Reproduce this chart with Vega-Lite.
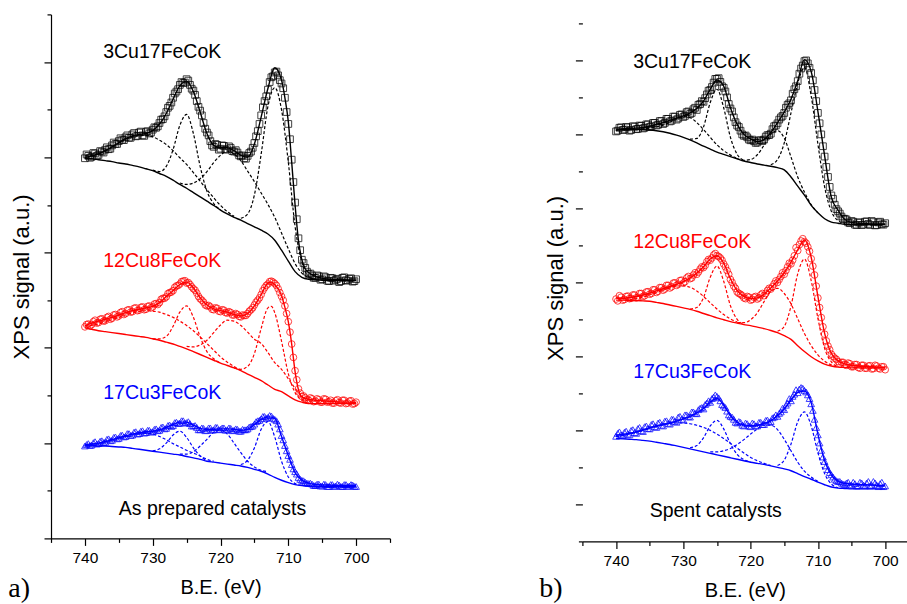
{
"$schema": "https://vega.github.io/schema/vega-lite/v6.json",
"background": "white",
"padding": {"left": 8, "top": 13.4, "right": 0, "bottom": 0},
"spacing": 147.4,
"config": {
  "view": {"stroke": null},
  "axis": {"grid": false, "domainColor": "#000", "domainWidth": 1.2, "tickColor": "#000", "tickWidth": 1.2, "labelColor": "#000", "labelFont": "Liberation Sans", "labelFontSize": 15.5, "titleColor": "#000", "titleFont": "Liberation Sans", "titleFontWeight": "normal", "titleFontSize": 20},
  "axisY": {"titleFontSize": 22},
  "text": {"font": "Liberation Sans"}
},
"datasets": {
"rows": [
{"s":"ak","E":740,"d":7.98,"e":8.00,"g":7.98,"c1":8.03},
{"s":"ak","E":739.5,"d":8.03},
{"s":"ak","E":739,"d":8.01,"e":8.03,"g":7.97,"c1":8.05},
{"s":"ak","E":738.5,"d":8.08},
{"s":"ak","E":738,"d":8.05,"e":8.07,"g":7.95,"c1":8.08},
{"s":"ak","E":737.5,"d":8.12},
{"s":"ak","E":737,"d":8.16,"e":8.14,"g":7.93,"c1":8.13},
{"s":"ak","E":736.5,"d":8.17},
{"s":"ak","E":736,"d":8.25,"e":8.22,"g":7.91,"c1":8.21},
{"s":"ak","E":735.5,"d":8.28},
{"s":"ak","E":735,"d":8.34,"e":8.31,"g":7.88,"c1":8.30},
{"s":"ak","E":734.5,"d":8.37},
{"s":"ak","E":734,"d":8.42,"e":8.39,"g":7.86,"c1":8.38},
{"s":"ak","E":733.5,"d":8.41},
{"s":"ak","E":733,"d":8.48,"e":8.45,"g":7.83,"c1":8.43},
{"s":"ak","E":732.5,"d":8.44},
{"s":"ak","E":732,"d":8.52,"e":8.48,"g":7.80,"c1":8.46},
{"s":"ak","E":731.5,"d":8.46},
{"s":"ak","E":731,"d":8.53,"e":8.50,"g":7.76,"c1":8.46},
{"s":"ak","E":730.5,"d":8.50},
{"s":"ak","E":730,"d":8.58,"e":8.56,"g":7.72,"c1":8.43,"c2":7.73},
{"s":"ak","E":729.5,"d":8.62},
{"s":"ak","E":729,"d":8.72,"e":8.70,"g":7.66,"c1":8.36,"c2":7.70},
{"s":"ak","E":728.5,"d":8.80},
{"s":"ak","E":728,"d":8.95,"e":8.92,"g":7.60,"c1":8.27,"c2":7.81},
{"s":"ak","E":727.5,"d":9.08},
{"s":"ak","E":727,"d":9.25,"e":9.22,"g":7.52,"c1":8.14,"c2":8.16},
{"s":"ak","E":726.5,"d":9.38},
{"s":"ak","E":726,"d":9.52,"e":9.50,"g":7.43,"c1":7.99,"c2":8.67,"c3":7.46},
{"s":"ak","E":725.5,"d":9.56},
{"s":"ak","E":725,"d":9.64,"e":9.60,"g":7.35,"c1":7.85,"c2":8.90,"c3":7.43},
{"s":"ak","E":724.5,"d":9.52},
{"s":"ak","E":724,"d":9.40,"e":9.38,"g":7.26,"c1":7.68,"c2":8.50,"c3":7.46},
{"s":"ak","E":723.5,"d":9.18},
{"s":"ak","E":723,"d":8.98,"e":8.95,"g":7.17,"c1":7.50,"c2":7.81,"c3":7.55},
{"s":"ak","E":722.5,"d":8.72},
{"s":"ak","E":722,"d":8.52,"e":8.50,"g":7.08,"c1":7.32,"c2":7.29,"c3":7.70},
{"s":"ak","E":721.5,"d":8.34},
{"s":"ak","E":721,"d":8.22,"e":8.25,"g":6.99,"c1":7.15,"c2":7.03,"c3":7.89},
{"s":"ak","E":720.5,"d":8.26},
{"s":"ak","E":720,"d":8.18,"e":8.20,"g":6.89,"c1":6.99,"c2":6.90,"c3":8.04},
{"s":"ak","E":719.5,"d":8.24},
{"s":"ak","E":719,"d":8.17,"e":8.20,"g":6.81,"c1":6.86,"c3":8.13},
{"s":"ak","E":718.5,"d":8.20},
{"s":"ak","E":718,"d":8.12,"e":8.14,"g":6.74,"c1":6.76,"c3":8.07},
{"s":"ak","E":717.5,"d":8.10},
{"s":"ak","E":717,"d":8.02,"e":8.04,"g":6.68,"c3":7.93,"c4":6.72},
{"s":"ak","E":716.5,"d":7.98},
{"s":"ak","E":716,"d":8.03,"e":8.00,"g":6.61,"c3":7.71,"c4":6.81},
{"s":"ak","E":715.5,"d":8.12},
{"s":"ak","E":715,"d":8.30,"e":8.28,"g":6.54,"c3":7.49,"c4":7.21},
{"s":"ak","E":714.5,"d":8.55},
{"s":"ak","E":714,"d":8.88,"e":8.85,"g":6.47,"c3":7.25,"c4":8.07},
{"s":"ak","E":713.5,"d":9.18},
{"s":"ak","E":713,"d":9.42,"e":9.45,"g":6.39,"c3":7.01,"c4":9.07},
{"s":"ak","E":712.5,"d":9.68},
{"s":"ak","E":712,"d":9.78,"e":9.88,"g":6.26,"c3":6.74,"c4":9.46},
{"s":"ak","E":711.5,"d":9.72},
{"s":"ak","E":711,"d":9.55,"e":9.62,"g":6.05,"c3":6.41,"c4":9.00},
{"s":"ak","E":710.5,"d":9.25,"e":9.25},
{"s":"ak","E":710,"d":8.70,"e":8.75,"g":5.82,"c3":6.08,"c4":7.90},
{"s":"ak","E":709.5,"d":7.95,"e":7.90},
{"s":"ak","E":709,"d":7.05,"e":7.00,"g":5.60,"c3":5.77,"c4":6.55},
{"s":"ak","E":708.5,"d":6.30,"e":6.25},
{"s":"ak","E":708,"d":5.85,"e":5.85,"g":5.48,"c3":5.57,"c4":5.80},
{"s":"ak","E":707.5,"d":5.68,"e":5.66},
{"s":"ak","E":707,"d":5.55,"e":5.58,"g":5.44,"c3":5.48,"c4":5.50},
{"s":"ak","E":706.5,"d":5.52},
{"s":"ak","E":706,"d":5.47,"e":5.50,"g":5.43,"c3":5.44,"c4":5.44},
{"s":"ak","E":705.5,"d":5.50},
{"s":"ak","E":705,"d":5.44,"e":5.46,"g":5.42},
{"s":"ak","E":704.5,"d":5.48},
{"s":"ak","E":704,"d":5.40,"e":5.44,"g":5.42},
{"s":"ak","E":703.5,"d":5.46},
{"s":"ak","E":703,"d":5.43,"e":5.43,"g":5.42},
{"s":"ak","E":702.5,"d":5.38},
{"s":"ak","E":702,"d":5.47,"e":5.43,"g":5.42},
{"s":"ak","E":701.5,"d":5.42},
{"s":"ak","E":701,"d":5.45,"e":5.42,"g":5.42},
{"s":"ak","E":700.5,"d":5.39},
{"s":"ak","E":700,"d":5.44,"e":5.42,"g":5.42},

{"s":"ar","E":740,"d":4.44,"e":4.46,"g":4.42,"c1":4.46},
{"s":"ar","E":739.5,"d":4.50},
{"s":"ar","E":739,"d":4.49,"e":4.52,"g":4.39,"c1":4.47},
{"s":"ar","E":738.5,"d":4.58},
{"s":"ar","E":738,"d":4.53,"e":4.56,"g":4.36,"c1":4.50},
{"s":"ar","E":737.5,"d":4.61},
{"s":"ar","E":737,"d":4.57,"e":4.60,"g":4.34,"c1":4.54},
{"s":"ar","E":736.5,"d":4.66},
{"s":"ar","E":736,"d":4.62,"e":4.64,"g":4.32,"c1":4.59},
{"s":"ar","E":735.5,"d":4.70},
{"s":"ar","E":735,"d":4.67,"e":4.69,"g":4.30,"c1":4.64},
{"s":"ar","E":734.5,"d":4.76},
{"s":"ar","E":734,"d":4.72,"e":4.74,"g":4.28,"c1":4.69},
{"s":"ar","E":733.5,"d":4.80},
{"s":"ar","E":733,"d":4.76,"e":4.78,"g":4.26,"c1":4.73},
{"s":"ar","E":732.5,"d":4.84},
{"s":"ar","E":732,"d":4.79,"e":4.81,"g":4.24,"c1":4.76},
{"s":"ar","E":731.5,"d":4.86},
{"s":"ar","E":731,"d":4.81,"e":4.84,"g":4.22,"c1":4.78},
{"s":"ar","E":730.5,"d":4.88},
{"s":"ar","E":730,"d":4.86,"e":4.87,"g":4.19,"c1":4.77,"c2":4.19},
{"s":"ar","E":729.5,"d":4.93},
{"s":"ar","E":729,"d":4.95,"e":4.95,"g":4.16,"c1":4.75,"c2":4.19},
{"s":"ar","E":728.5,"d":5.04},
{"s":"ar","E":728,"d":5.07,"e":5.08,"g":4.12,"c1":4.70,"c2":4.24},
{"s":"ar","E":727.5,"d":5.16},
{"s":"ar","E":727,"d":5.20,"e":5.20,"g":4.08,"c1":4.64,"c2":4.45},
{"s":"ar","E":726.5,"d":5.30},
{"s":"ar","E":726,"d":5.34,"e":5.33,"g":4.03,"c1":4.56,"c2":4.75},
{"s":"ar","E":725.5,"d":5.40},
{"s":"ar","E":725,"d":5.36,"e":5.38,"g":3.98,"c1":4.47,"c2":4.88,"c3":4.03},
{"s":"ar","E":724.5,"d":5.33},
{"s":"ar","E":724,"d":5.24,"e":5.26,"g":3.92,"c1":4.36,"c2":4.64,"c3":4.02},
{"s":"ar","E":723.5,"d":5.15},
{"s":"ar","E":723,"d":5.03,"e":5.05,"g":3.86,"c1":4.23,"c2":4.23,"c3":4.06},
{"s":"ar","E":722.5,"d":4.96},
{"s":"ar","E":722,"d":4.88,"e":4.90,"g":3.80,"c1":4.09,"c2":3.92,"c3":4.16},
{"s":"ar","E":721.5,"d":4.86},
{"s":"ar","E":721,"d":4.80,"e":4.82,"g":3.74,"c1":3.95,"c2":3.77,"c3":4.32},
{"s":"ar","E":720.5,"d":4.83},
{"s":"ar","E":720,"d":4.76,"e":4.78,"g":3.68,"c1":3.81,"c2":3.68,"c3":4.48},
{"s":"ar","E":719.5,"d":4.79},
{"s":"ar","E":719,"d":4.73,"e":4.75,"g":3.63,"c1":3.70,"c3":4.58},
{"s":"ar","E":718.5,"d":4.74},
{"s":"ar","E":718,"d":4.69,"e":4.70,"g":3.58,"c1":3.61,"c3":4.56,"c4":3.58},
{"s":"ar","E":717.5,"d":4.70},
{"s":"ar","E":717,"d":4.65,"e":4.67,"g":3.52,"c1":3.53,"c3":4.47,"c4":3.55},
{"s":"ar","E":716.5,"d":4.68},
{"s":"ar","E":716,"d":4.72,"e":4.72,"g":3.45,"c3":4.33,"c4":3.61},
{"s":"ar","E":715.5,"d":4.80},
{"s":"ar","E":715,"d":4.90,"e":4.88,"g":3.38,"c3":4.18,"c4":3.88},
{"s":"ar","E":714.5,"d":5.00},
{"s":"ar","E":714,"d":5.12,"e":5.12,"g":3.31,"c3":4.09,"c4":4.41},
{"s":"ar","E":713.5,"d":5.26},
{"s":"ar","E":713,"d":5.34,"e":5.36,"g":3.22,"c3":3.90,"c4":4.84},
{"s":"ar","E":712.5,"d":5.40,"e":5.38,"c4":4.87},
{"s":"ar","E":712,"d":5.35,"e":5.33,"g":3.13,"c3":3.69,"c4":4.74},
{"s":"ar","E":711.5,"d":5.24},
{"s":"ar","E":711,"d":5.08,"e":5.10,"g":3.08,"c3":3.55,"c4":4.14},
{"s":"ar","E":710.5,"d":4.88,"e":4.85},
{"s":"ar","E":710,"d":4.55,"e":4.55,"g":2.99,"c3":3.35,"c4":3.46},
{"s":"ar","E":709.5,"d":4.08,"e":4.08},
{"s":"ar","E":709,"d":3.52,"e":3.50,"g":2.91,"c3":3.15,"c4":3.06},
{"s":"ar","E":708.5,"d":3.14,"e":3.12},
{"s":"ar","E":708,"d":2.98,"e":2.97,"g":2.86,"c3":2.98,"c4":2.90},
{"s":"ar","E":707.5,"d":2.95},
{"s":"ar","E":707,"d":2.90,"e":2.92,"g":2.83,"c3":2.86,"c4":2.83},
{"s":"ar","E":706.5,"d":2.93},
{"s":"ar","E":706,"d":2.88,"e":2.90,"g":2.83},
{"s":"ar","E":705.5,"d":2.91},
{"s":"ar","E":705,"d":2.86,"e":2.89,"g":2.83},
{"s":"ar","E":704.5,"d":2.92},
{"s":"ar","E":704,"d":2.87,"e":2.88,"g":2.83},
{"s":"ar","E":703.5,"d":2.84},
{"s":"ar","E":703,"d":2.89,"e":2.87,"g":2.83},
{"s":"ar","E":702.5,"d":2.85},
{"s":"ar","E":702,"d":2.90,"e":2.86,"g":2.83},
{"s":"ar","E":701.5,"d":2.83},
{"s":"ar","E":701,"d":2.88,"e":2.86,"g":2.83},
{"s":"ar","E":700.5,"d":2.82},
{"s":"ar","E":700,"d":2.86,"e":2.85,"g":2.83},

{"s":"ab","E":740,"d":1.94,"e":1.96,"g":1.95,"c1":1.96},
{"s":"ab","E":739.5,"d":1.99},
{"s":"ab","E":739,"d":1.96,"e":1.98,"g":1.95,"c1":1.98},
{"s":"ab","E":738.5,"d":2.03},
{"s":"ab","E":738,"d":1.99,"e":2.00,"g":1.94,"c1":2.00},
{"s":"ab","E":737.5,"d":2.05},
{"s":"ab","E":737,"d":2.02,"e":2.03,"g":1.94,"c1":2.04},
{"s":"ab","E":736.5,"d":2.09},
{"s":"ab","E":736,"d":2.06,"e":2.07,"g":1.93,"c1":2.08},
{"s":"ab","E":735.5,"d":2.13},
{"s":"ab","E":735,"d":2.10,"e":2.11,"g":1.92,"c1":2.12},
{"s":"ab","E":734.5,"d":2.17},
{"s":"ab","E":734,"d":2.14,"e":2.15,"g":1.91,"c1":2.16},
{"s":"ab","E":733.5,"d":2.20},
{"s":"ab","E":733,"d":2.17,"e":2.19,"g":1.89,"c1":2.19},
{"s":"ab","E":732.5,"d":2.24},
{"s":"ab","E":732,"d":2.20,"e":2.22,"g":1.87,"c1":2.21},
{"s":"ab","E":731.5,"d":2.26},
{"s":"ab","E":731,"d":2.22,"e":2.24,"g":1.85,"c1":2.21},
{"s":"ab","E":730.5,"d":2.27},
{"s":"ab","E":730,"d":2.24,"e":2.25,"g":1.83,"c1":2.19,"c2":1.84},
{"s":"ab","E":729.5,"d":2.30},
{"s":"ab","E":729,"d":2.27,"e":2.28,"g":1.81,"c1":2.14,"c2":1.88},
{"s":"ab","E":728.5,"d":2.34},
{"s":"ab","E":728,"d":2.31,"e":2.33,"g":1.79,"c1":2.07,"c2":2.00},
{"s":"ab","E":727.5,"d":2.38},
{"s":"ab","E":727,"d":2.37,"e":2.39,"g":1.77,"c1":1.99,"c2":2.17},
{"s":"ab","E":726.5,"d":2.44},
{"s":"ab","E":726,"d":2.42,"e":2.44,"g":1.75,"c1":1.92,"c2":2.25,"c3":1.77},
{"s":"ab","E":725.5,"d":2.47},
{"s":"ab","E":725,"d":2.43,"e":2.44,"g":1.72,"c1":1.85,"c2":2.12,"c3":1.77},
{"s":"ab","E":724.5,"d":2.41},
{"s":"ab","E":724,"d":2.36,"e":2.38,"g":1.69,"c1":1.79,"c2":1.90,"c3":1.82},
{"s":"ab","E":723.5,"d":2.33},
{"s":"ab","E":723,"d":2.28,"e":2.31,"g":1.66,"c1":1.73,"c2":1.73,"c3":1.94},
{"s":"ab","E":722.5,"d":2.31},
{"s":"ab","E":722,"d":2.27,"e":2.29,"g":1.62,"c1":1.66,"c2":1.63,"c3":2.08},
{"s":"ab","E":721.5,"d":2.32},
{"s":"ab","E":721,"d":2.28,"e":2.29,"g":1.60,"c1":1.62,"c3":2.23},
{"s":"ab","E":720.5,"d":2.33},
{"s":"ab","E":720,"d":2.29,"e":2.30,"g":1.58,"c3":2.28},
{"s":"ab","E":719.5,"d":2.32},
{"s":"ab","E":719,"d":2.28,"e":2.30,"g":1.56,"c3":2.19},
{"s":"ab","E":718.5,"d":2.31},
{"s":"ab","E":718,"d":2.27,"e":2.29,"g":1.54,"c3":2.00},
{"s":"ab","E":717.5,"d":2.29},
{"s":"ab","E":717,"d":2.25,"e":2.27,"g":1.52,"c3":1.80,"c4":1.55},
{"s":"ab","E":716.5,"d":2.28},
{"s":"ab","E":716,"d":2.30,"e":2.29,"g":1.49,"c3":1.62,"c4":1.64},
{"s":"ab","E":715.5,"d":2.35},
{"s":"ab","E":715,"d":2.40,"e":2.39,"g":1.45,"c3":1.50,"c4":1.90},
{"s":"ab","E":714.5,"d":2.47},
{"s":"ab","E":714,"d":2.51,"e":2.50,"g":1.41,"c3":1.43,"c4":2.29},
{"s":"ab","E":713.5,"d":2.56},
{"s":"ab","E":713,"d":2.54,"e":2.55,"g":1.35,"c3":1.40,"c4":2.45},
{"s":"ab","E":712.5,"d":2.57},
{"s":"ab","E":712,"d":2.50,"e":2.52,"g":1.28,"c4":2.13},
{"s":"ab","E":711.5,"d":2.40},
{"s":"ab","E":711,"d":2.16,"e":2.14,"g":1.22,"c4":1.62},
{"s":"ab","E":710.5,"d":1.95},
{"s":"ab","E":710,"d":1.74,"e":1.74,"g":1.17,"c4":1.29},
{"s":"ab","E":709.5,"d":1.55},
{"s":"ab","E":709,"d":1.40,"e":1.38,"g":1.13,"c4":1.15},
{"s":"ab","E":708.5,"d":1.28},
{"s":"ab","E":708,"d":1.22,"e":1.22,"g":1.11,"c4":1.11},
{"s":"ab","E":707.5,"d":1.18},
{"s":"ab","E":707,"d":1.15,"e":1.16,"g":1.10},
{"s":"ab","E":706.5,"d":1.14},
{"s":"ab","E":706,"d":1.11,"e":1.13,"g":1.09},
{"s":"ab","E":705.5,"d":1.14},
{"s":"ab","E":705,"d":1.10,"e":1.12,"g":1.09},
{"s":"ab","E":704.5,"d":1.13},
{"s":"ab","E":704,"d":1.09,"e":1.12,"g":1.09},
{"s":"ab","E":703.5,"d":1.13},
{"s":"ab","E":703,"d":1.10,"e":1.11,"g":1.09},
{"s":"ab","E":702.5,"d":1.12},
{"s":"ab","E":702,"d":1.09,"e":1.11,"g":1.09},
{"s":"ab","E":701.5,"d":1.13},
{"s":"ab","E":701,"d":1.10,"e":1.11,"g":1.09},
{"s":"ab","E":700.5,"d":1.12},
{"s":"ab","E":700,"d":1.09,"e":1.11,"g":1.09},

{"s":"bk","E":740,"d":11.08,"e":11.10,"g":11.14},
{"s":"bk","E":739.5,"d":11.18},
{"s":"bk","E":739,"d":11.12,"e":11.15,"g":11.14},
{"s":"bk","E":738.5,"d":11.20},
{"s":"bk","E":738,"d":11.10,"e":11.16,"g":11.14},
{"s":"bk","E":737.5,"d":11.22},
{"s":"bk","E":737,"d":11.14,"e":11.17,"g":11.13,"c1":11.13},
{"s":"bk","E":736.5,"d":11.24},
{"s":"bk","E":736,"d":11.16,"e":11.19,"g":11.13,"c1":11.15},
{"s":"bk","E":735.5,"d":11.27},
{"s":"bk","E":735,"d":11.20,"e":11.22,"g":11.12,"c1":11.17},
{"s":"bk","E":734.5,"d":11.31},
{"s":"bk","E":734,"d":11.24,"e":11.27,"g":11.10,"c1":11.20},
{"s":"bk","E":733.5,"d":11.36},
{"s":"bk","E":733,"d":11.28,"e":11.32,"g":11.07,"c1":11.25},
{"s":"bk","E":732.5,"d":11.42},
{"s":"bk","E":732,"d":11.35,"e":11.38,"g":11.03,"c1":11.33},
{"s":"bk","E":731.5,"d":11.48},
{"s":"bk","E":731,"d":11.40,"e":11.44,"g":10.98,"c1":11.43},
{"s":"bk","E":730.5,"d":11.53},
{"s":"bk","E":730,"d":11.47,"e":11.50,"g":10.92,"c1":11.48},
{"s":"bk","E":729.5,"d":11.60},
{"s":"bk","E":729,"d":11.55,"e":11.58,"g":10.85,"c1":11.45,"c2":10.87},
{"s":"bk","E":728.5,"d":11.68},
{"s":"bk","E":728,"d":11.66,"e":11.70,"g":10.77,"c1":11.32,"c2":10.89},
{"s":"bk","E":727.5,"d":11.82},
{"s":"bk","E":727,"d":11.88,"e":11.90,"g":10.68,"c1":11.13,"c2":11.20},
{"s":"bk","E":726.5,"d":12.08},
{"s":"bk","E":726,"d":12.20,"e":12.22,"g":10.60,"c1":10.92,"c2":11.86},
{"s":"bk","E":725.5,"d":12.40},
{"s":"bk","E":725,"d":12.50,"e":12.47,"g":10.52,"c1":10.72,"c2":12.22},
{"s":"bk","E":724.5,"d":12.42},
{"s":"bk","E":724,"d":12.26,"e":12.30,"g":10.46,"c1":10.56,"c2":11.72},
{"s":"bk","E":723.5,"d":12.00},
{"s":"bk","E":723,"d":11.70,"e":11.72,"g":10.40,"c1":10.44,"c2":10.92},
{"s":"bk","E":722.5,"d":11.46},
{"s":"bk","E":722,"d":11.24,"e":11.27,"g":10.34,"c1":10.35,"c2":10.46,"c3":10.35},
{"s":"bk","E":721.5,"d":11.10},
{"s":"bk","E":721,"d":10.96,"e":11.00,"g":10.28,"c2":10.30,"c3":10.30},
{"s":"bk","E":720.5,"d":10.92},
{"s":"bk","E":720,"d":10.84,"e":10.88,"g":10.24,"c3":10.32},
{"s":"bk","E":719.5,"d":10.82},
{"s":"bk","E":719,"d":10.78,"e":10.80,"g":10.20,"c3":10.45},
{"s":"bk","E":718.5,"d":10.84},
{"s":"bk","E":718,"d":10.86,"e":10.86,"g":10.17,"c3":10.71},
{"s":"bk","E":717.5,"d":10.98},
{"s":"bk","E":717,"d":11.02,"e":11.05,"g":10.14,"c3":11.00,"c4":10.18},
{"s":"bk","E":716.5,"d":11.22},
{"s":"bk","E":716,"d":11.30,"e":11.32,"g":10.10,"c3":11.10,"c4":10.32},
{"s":"bk","E":715.5,"d":11.46},
{"s":"bk","E":715,"d":11.58,"e":11.60,"g":10.04,"c3":10.90,"c4":10.77},
{"s":"bk","E":714.5,"d":11.80},
{"s":"bk","E":714,"d":11.92,"e":11.95,"g":9.85,"c3":10.39,"c4":11.58},
{"s":"bk","E":713.5,"d":12.22},
{"s":"bk","E":713,"d":12.44,"e":12.45,"g":9.60,"c3":9.85,"c4":12.38},
{"s":"bk","E":712.5,"d":12.78},
{"s":"bk","E":712,"d":12.98,"e":13.02,"g":9.36,"c3":9.44,"c4":12.81},
{"s":"bk","E":711.5,"d":12.92},
{"s":"bk","E":711,"d":12.66,"e":12.70,"g":9.08,"c3":9.10,"c4":12.04},
{"s":"bk","E":710.5,"d":12.20},
{"s":"bk","E":710,"d":11.58,"e":11.62,"g":8.88,"c3":8.88,"c4":10.74},
{"s":"bk","E":709.5,"d":11.00},
{"s":"bk","E":709,"d":10.40,"e":10.42,"g":8.72,"c4":9.58},
{"s":"bk","E":708.5,"d":9.85},
{"s":"bk","E":708,"d":9.35,"e":9.30,"g":8.63,"c4":8.92},
{"s":"bk","E":707.5,"d":9.10},
{"s":"bk","E":707,"d":8.92,"e":8.95,"g":8.60,"c4":8.67},
{"s":"bk","E":706.5,"d":8.78},
{"s":"bk","E":706,"d":8.72,"e":8.70,"g":8.57,"c4":8.59},
{"s":"bk","E":705.5,"d":8.62},
{"s":"bk","E":705,"d":8.66,"e":8.62,"g":8.56},
{"s":"bk","E":704.5,"d":8.56},
{"s":"bk","E":704,"d":8.62,"e":8.60,"g":8.56},
{"s":"bk","E":703.5,"d":8.55},
{"s":"bk","E":703,"d":8.64,"e":8.59,"g":8.56},
{"s":"bk","E":702.5,"d":8.58},
{"s":"bk","E":702,"d":8.66,"e":8.58,"g":8.56},
{"s":"bk","E":701.5,"d":8.54},
{"s":"bk","E":701,"d":8.62,"e":8.58,"g":8.56},
{"s":"bk","E":700.5,"d":8.57},
{"s":"bk","E":700,"d":8.60,"e":8.58,"g":8.56},

{"s":"br","E":740,"d":6.55,"e":6.58,"g":6.52},
{"s":"br","E":739.5,"d":6.64},
{"s":"br","E":739,"d":6.52,"e":6.57,"g":6.52},
{"s":"br","E":738.5,"d":6.62},
{"s":"br","E":738,"d":6.56,"e":6.59,"g":6.51,"c1":6.53},
{"s":"br","E":737.5,"d":6.66},
{"s":"br","E":737,"d":6.58,"e":6.62,"g":6.51,"c1":6.56},
{"s":"br","E":736.5,"d":6.70},
{"s":"br","E":736,"d":6.62,"e":6.66,"g":6.50,"c1":6.60},
{"s":"br","E":735.5,"d":6.74},
{"s":"br","E":735,"d":6.68,"e":6.71,"g":6.49,"c1":6.66},
{"s":"br","E":734.5,"d":6.80},
{"s":"br","E":734,"d":6.73,"e":6.77,"g":6.46,"c1":6.72},
{"s":"br","E":733.5,"d":6.86},
{"s":"br","E":733,"d":6.79,"e":6.83,"g":6.43,"c1":6.79},
{"s":"br","E":732.5,"d":6.92},
{"s":"br","E":732,"d":6.85,"e":6.89,"g":6.39,"c1":6.85},
{"s":"br","E":731.5,"d":6.98},
{"s":"br","E":731,"d":6.92,"e":6.95,"g":6.35,"c1":6.90},
{"s":"br","E":730.5,"d":7.05},
{"s":"br","E":730,"d":6.98,"e":7.02,"g":6.31,"c1":6.91},
{"s":"br","E":729.5,"d":7.12},
{"s":"br","E":729,"d":7.10,"e":7.12,"g":6.27,"c1":6.87,"c2":6.28},
{"s":"br","E":728.5,"d":7.20},
{"s":"br","E":728,"d":7.22,"e":7.25,"g":6.22,"c1":6.77,"c2":6.32},
{"s":"br","E":727.5,"d":7.36},
{"s":"br","E":727,"d":7.40,"e":7.42,"g":6.16,"c1":6.62,"c2":6.59},
{"s":"br","E":726.5,"d":7.56},
{"s":"br","E":726,"d":7.60,"e":7.63,"g":6.10,"c1":6.45,"c2":7.14},
{"s":"br","E":725.5,"d":7.74},
{"s":"br","E":725,"d":7.72,"e":7.72,"g":6.04,"c1":6.28,"c2":7.44},
{"s":"br","E":724.5,"d":7.66},
{"s":"br","E":724,"d":7.50,"e":7.52,"g":5.99,"c1":6.13,"c2":7.03},
{"s":"br","E":723.5,"d":7.32},
{"s":"br","E":723,"d":7.08,"e":7.10,"g":5.94,"c1":6.01,"c2":6.37},
{"s":"br","E":722.5,"d":6.90},
{"s":"br","E":722,"d":6.74,"e":6.78,"g":5.90,"c1":5.93,"c2":6.00,"c3":5.91},
{"s":"br","E":721.5,"d":6.68},
{"s":"br","E":721,"d":6.58,"e":6.62,"g":5.86,"c2":5.87,"c3":5.91},
{"s":"br","E":720.5,"d":6.62},
{"s":"br","E":720,"d":6.52,"e":6.56,"g":5.83,"c3":5.99},
{"s":"br","E":719.5,"d":6.60},
{"s":"br","E":719,"d":6.55,"e":6.58,"g":5.79,"c3":6.18},
{"s":"br","E":718.5,"d":6.66},
{"s":"br","E":718,"d":6.64,"e":6.68,"g":5.75,"c3":6.48},
{"s":"br","E":717.5,"d":6.78},
{"s":"br","E":717,"d":6.82,"e":6.85,"g":5.70,"c3":6.76},
{"s":"br","E":716.5,"d":6.96},
{"s":"br","E":716,"d":7.00,"e":7.04,"g":5.64,"c3":6.84,"c4":5.68},
{"s":"br","E":715.5,"d":7.16},
{"s":"br","E":715,"d":7.22,"e":7.26,"g":5.56,"c3":6.70,"c4":5.81},
{"s":"br","E":714.5,"d":7.42},
{"s":"br","E":714,"d":7.50,"e":7.55,"g":5.46,"c3":6.42,"c4":6.36},
{"s":"br","E":713.5,"d":7.72},
{"s":"br","E":713,"d":7.86,"e":7.88,"g":5.29,"c3":6.02,"c4":7.23},
{"s":"br","E":712.5,"d":8.12},
{"s":"br","E":712,"d":8.10,"e":8.15,"g":5.13,"c3":5.62,"c4":7.63},
{"s":"br","E":711.5,"d":7.96},
{"s":"br","E":711,"d":7.64,"e":7.68,"g":4.99,"c3":5.29,"c4":7.05},
{"s":"br","E":710.5,"d":7.20},
{"s":"br","E":710,"d":6.58,"e":6.62,"g":4.88,"c3":5.04,"c4":6.03},
{"s":"br","E":709.5,"d":6.05},
{"s":"br","E":709,"d":5.60,"e":5.62,"g":4.79,"c3":4.87,"c4":5.22},
{"s":"br","E":708.5,"d":5.28},
{"s":"br","E":708,"d":5.06,"e":5.08,"g":4.74,"c3":4.77,"c4":4.85},
{"s":"br","E":707.5,"d":4.95},
{"s":"br","E":707,"d":4.86,"e":4.88,"g":4.71,"c3":4.71,"c4":4.73},
{"s":"br","E":706.5,"d":4.84},
{"s":"br","E":706,"d":4.78,"e":4.80,"g":4.70},
{"s":"br","E":705.5,"d":4.82},
{"s":"br","E":705,"d":4.72,"e":4.76,"g":4.69},
{"s":"br","E":704.5,"d":4.78},
{"s":"br","E":704,"d":4.70,"e":4.74,"g":4.69},
{"s":"br","E":703.5,"d":4.76},
{"s":"br","E":703,"d":4.68,"e":4.73,"g":4.69},
{"s":"br","E":702.5,"d":4.74},
{"s":"br","E":702,"d":4.66,"e":4.72,"g":4.69},
{"s":"br","E":701.5,"d":4.76},
{"s":"br","E":701,"d":4.68,"e":4.71,"g":4.69},
{"s":"br","E":700.5,"d":4.72},
{"s":"br","E":700,"d":4.64,"e":4.70,"g":4.69},

{"s":"bb","E":740,"d":2.84,"e":2.87,"g":2.78,"c1":2.83},
{"s":"bb","E":739.5,"d":2.96},
{"s":"bb","E":739,"d":2.86,"e":2.89,"g":2.77,"c1":2.86},
{"s":"bb","E":738.5,"d":2.98},
{"s":"bb","E":738,"d":2.88,"e":2.92,"g":2.76,"c1":2.90},
{"s":"bb","E":737.5,"d":3.02},
{"s":"bb","E":737,"d":2.92,"e":2.96,"g":2.75,"c1":2.95},
{"s":"bb","E":736.5,"d":3.08},
{"s":"bb","E":736,"d":2.97,"e":3.01,"g":2.73,"c1":3.00},
{"s":"bb","E":735.5,"d":3.12},
{"s":"bb","E":735,"d":3.04,"e":3.07,"g":2.71,"c1":3.06},
{"s":"bb","E":734.5,"d":3.18},
{"s":"bb","E":734,"d":3.08,"e":3.12,"g":2.68,"c1":3.10},
{"s":"bb","E":733.5,"d":3.22},
{"s":"bb","E":733,"d":3.12,"e":3.16,"g":2.65,"c1":3.15},
{"s":"bb","E":732.5,"d":3.26},
{"s":"bb","E":732,"d":3.17,"e":3.20,"g":2.62,"c1":3.19},
{"s":"bb","E":731.5,"d":3.30},
{"s":"bb","E":731,"d":3.22,"e":3.25,"g":2.58,"c1":3.20},
{"s":"bb","E":730.5,"d":3.38},
{"s":"bb","E":730,"d":3.28,"e":3.31,"g":2.54,"c1":3.20},
{"s":"bb","E":729.5,"d":3.42},
{"s":"bb","E":729,"d":3.36,"e":3.38,"g":2.50,"c1":3.18,"c2":2.53},
{"s":"bb","E":728.5,"d":3.50},
{"s":"bb","E":728,"d":3.45,"e":3.47,"g":2.46,"c1":3.14,"c2":2.59},
{"s":"bb","E":727.5,"d":3.60},
{"s":"bb","E":727,"d":3.58,"e":3.59,"g":2.42,"c1":3.08,"c2":2.80},
{"s":"bb","E":726.5,"d":3.74},
{"s":"bb","E":726,"d":3.76,"e":3.76,"g":2.38,"c1":3.00,"c2":3.12,"c3":2.42},
{"s":"bb","E":725.5,"d":3.90},
{"s":"bb","E":725,"d":3.92,"e":3.87,"g":2.34,"c1":2.90,"c2":3.27,"c3":2.42},
{"s":"bb","E":724.5,"d":3.80},
{"s":"bb","E":724,"d":3.66,"e":3.68,"g":2.30,"c1":2.78,"c2":3.04,"c3":2.45},
{"s":"bb","E":723.5,"d":3.52},
{"s":"bb","E":723,"d":3.38,"e":3.40,"g":2.26,"c1":2.65,"c2":2.64,"c3":2.51},
{"s":"bb","E":722.5,"d":3.30},
{"s":"bb","E":722,"d":3.20,"e":3.22,"g":2.22,"c1":2.52,"c2":2.35,"c3":2.62},
{"s":"bb","E":721.5,"d":3.22},
{"s":"bb","E":721,"d":3.12,"e":3.15,"g":2.18,"c1":2.39,"c2":2.21,"c3":2.75},
{"s":"bb","E":720.5,"d":3.18},
{"s":"bb","E":720,"d":3.10,"e":3.13,"g":2.14,"c1":2.27,"c2":2.14,"c3":2.90},
{"s":"bb","E":719.5,"d":3.18},
{"s":"bb","E":719,"d":3.12,"e":3.14,"g":2.11,"c1":2.18,"c3":3.04},
{"s":"bb","E":718.5,"d":3.22},
{"s":"bb","E":718,"d":3.16,"e":3.19,"g":2.08,"c1":2.11,"c3":3.14},
{"s":"bb","E":717.5,"d":3.28},
{"s":"bb","E":717,"d":3.24,"e":3.26,"g":2.04,"c1":2.05,"c3":3.14},
{"s":"bb","E":716.5,"d":3.36},
{"s":"bb","E":716,"d":3.38,"e":3.40,"g":2.00,"c3":3.02,"c4":2.05},
{"s":"bb","E":715.5,"d":3.50},
{"s":"bb","E":715,"d":3.56,"e":3.58,"g":1.96,"c3":2.76,"c4":2.20},
{"s":"bb","E":714.5,"d":3.74},
{"s":"bb","E":714,"d":3.80,"e":3.82,"g":1.91,"c3":2.45,"c4":2.63},
{"s":"bb","E":713.5,"d":3.98},
{"s":"bb","E":713,"d":4.02,"e":4.02,"g":1.83,"c3":2.14,"c4":3.23},
{"s":"bb","E":712.5,"d":4.16},
{"s":"bb","E":712,"d":4.08,"e":4.06,"g":1.75,"c3":1.90,"c4":3.50},
{"s":"bb","E":711.5,"d":3.96},
{"s":"bb","E":711,"d":3.72,"e":3.75,"g":1.68,"c3":1.74,"c4":3.12},
{"s":"bb","E":710.5,"d":3.30},
{"s":"bb","E":710,"d":2.88,"e":2.90,"g":1.60,"c3":1.62,"c4":2.40},
{"s":"bb","E":709.5,"d":2.46},
{"s":"bb","E":709,"d":2.16,"e":2.18,"g":1.53,"c4":1.83},
{"s":"bb","E":708.5,"d":1.94},
{"s":"bb","E":708,"d":1.80,"e":1.80,"g":1.47,"c4":1.55},
{"s":"bb","E":707.5,"d":1.68},
{"s":"bb","E":707,"d":1.62,"e":1.62,"g":1.44,"c4":1.45},
{"s":"bb","E":706.5,"d":1.58},
{"s":"bb","E":706,"d":1.54,"e":1.57,"g":1.43},
{"s":"bb","E":705.5,"d":1.60},
{"s":"bb","E":705,"d":1.52,"e":1.55,"g":1.42},
{"s":"bb","E":704.5,"d":1.56},
{"s":"bb","E":704,"d":1.50,"e":1.54,"g":1.42},
{"s":"bb","E":703.5,"d":1.58},
{"s":"bb","E":703,"d":1.50,"e":1.53,"g":1.42},
{"s":"bb","E":702.5,"d":1.62},
{"s":"bb","E":702,"d":1.52,"e":1.52,"g":1.42},
{"s":"bb","E":701.5,"d":1.58},
{"s":"bb","E":701,"d":1.48,"e":1.51,"g":1.42},
{"s":"bb","E":700.5,"d":1.60},
{"s":"bb","E":700,"d":1.50,"e":1.50,"g":1.42},

{"s":"ak","E":739.75,"d":8.06},{"s":"ak","E":739.25,"d":7.99},{"s":"ak","E":738.75,"d":8.09},{"s":"ak","E":738.25,"d":8.03},
{"s":"ak","E":737.75,"d":8.13},{"s":"ak","E":737.25,"d":8.10},{"s":"ak","E":736.75,"d":8.21},{"s":"ak","E":736.25,"d":8.18},
{"s":"ak","E":735.75,"d":8.31},{"s":"ak","E":735.25,"d":8.28},{"s":"ak","E":734.75,"d":8.40},{"s":"ak","E":734.25,"d":8.36},
{"s":"ak","E":733.75,"d":8.46},{"s":"ak","E":733.25,"d":8.41},{"s":"ak","E":732.75,"d":8.51},{"s":"ak","E":732.25,"d":8.45},
{"s":"ak","E":731.75,"d":8.54},{"s":"ak","E":731.25,"d":8.45},{"s":"ak","E":730.75,"d":8.55},{"s":"ak","E":730.25,"d":8.52},
{"s":"ak","E":729.75,"d":8.63},{"s":"ak","E":729.25,"d":8.65},{"s":"ak","E":728.75,"d":8.79},{"s":"ak","E":728.25,"d":8.86},
{"s":"ak","E":727.75,"d":9.04},{"s":"ak","E":727.25,"d":9.15},{"s":"ak","E":726.75,"d":9.34},{"s":"ak","E":726.25,"d":9.43},
{"s":"ak","E":725.75,"d":9.58},{"s":"ak","E":725.25,"d":9.57},{"s":"ak","E":724.75,"d":9.61},{"s":"ak","E":724.25,"d":9.44},
{"s":"ak","E":723.75,"d":9.31},{"s":"ak","E":723.25,"d":9.06},{"s":"ak","E":722.75,"d":8.88},{"s":"ak","E":722.25,"d":8.60},
{"s":"ak","E":721.75,"d":8.46},{"s":"ak","E":721.25,"d":8.25},{"s":"ak","E":720.75,"d":8.28},{"s":"ak","E":720.25,"d":8.16},
{"s":"ak","E":719.75,"d":8.25},{"s":"ak","E":719.25,"d":8.16},{"s":"ak","E":718.75,"d":8.23},{"s":"ak","E":718.25,"d":8.13},
{"s":"ak","E":717.75,"d":8.15},{"s":"ak","E":717.25,"d":8.04},{"s":"ak","E":716.75,"d":8.04},{"s":"ak","E":716.25,"d":7.97},
{"s":"ak","E":715.75,"d":8.09},{"s":"ak","E":715.25,"d":8.20},{"s":"ak","E":714.75,"d":8.44},{"s":"ak","E":714.25,"d":8.70},
{"s":"ak","E":713.75,"d":9.05},{"s":"ak","E":713.25,"d":9.28},{"s":"ak","E":712.75,"d":9.58},{"s":"ak","E":712.25,"d":9.70},
{"s":"ak","E":711.75,"d":9.80},{"s":"ak","E":711.25,"d":9.62},{"s":"ak","E":710.75,"d":9.45},{"s":"ak","E":710.25,"d":8.95},
{"s":"ak","E":709.75,"d":8.38},{"s":"ak","E":709.25,"d":7.48},{"s":"ak","E":708.75,"d":6.70},{"s":"ak","E":708.25,"d":6.05},
{"s":"ak","E":707.75,"d":5.78},{"s":"ak","E":707.25,"d":5.60},{"s":"ak","E":706.75,"d":5.56},{"s":"ak","E":706.25,"d":5.47},
{"s":"ak","E":705.75,"d":5.52},{"s":"ak","E":705.25,"d":5.43},{"s":"ak","E":704.75,"d":5.50},{"s":"ak","E":704.25,"d":5.41},
{"s":"ak","E":703.75,"d":5.47},{"s":"ak","E":703.25,"d":5.41},{"s":"ak","E":702.75,"d":5.45},{"s":"ak","E":702.25,"d":5.40},
{"s":"ak","E":701.75,"d":5.48},{"s":"ak","E":701.25,"d":5.41},{"s":"ak","E":700.75,"d":5.46},{"s":"ak","E":700.25,"d":5.40},

{"s":"ar","E":739.75,"d":4.49},{"s":"ar","E":739.25,"d":4.46},{"s":"ar","E":738.75,"d":4.55},{"s":"ar","E":738.25,"d":4.52},
{"s":"ar","E":737.75,"d":4.60},{"s":"ar","E":737.25,"d":4.56},{"s":"ar","E":736.75,"d":4.64},{"s":"ar","E":736.25,"d":4.60},
{"s":"ar","E":735.75,"d":4.69},{"s":"ar","E":735.25,"d":4.65},{"s":"ar","E":734.75,"d":4.74},{"s":"ar","E":734.25,"d":4.70},
{"s":"ar","E":733.75,"d":4.79},{"s":"ar","E":733.25,"d":4.75},{"s":"ar","E":732.75,"d":4.83},{"s":"ar","E":732.25,"d":4.78},
{"s":"ar","E":731.75,"d":4.85},{"s":"ar","E":731.25,"d":4.80},{"s":"ar","E":730.75,"d":4.87},{"s":"ar","E":730.25,"d":4.84},
{"s":"ar","E":729.75,"d":4.92},{"s":"ar","E":729.25,"d":4.91},{"s":"ar","E":728.75,"d":5.02},{"s":"ar","E":728.25,"d":5.04},
{"s":"ar","E":727.75,"d":5.14},{"s":"ar","E":727.25,"d":5.17},{"s":"ar","E":726.75,"d":5.27},{"s":"ar","E":726.25,"d":5.31},
{"s":"ar","E":725.75,"d":5.39},{"s":"ar","E":725.25,"d":5.41},{"s":"ar","E":724.75,"d":5.37},{"s":"ar","E":724.25,"d":5.28},
{"s":"ar","E":723.75,"d":5.21},{"s":"ar","E":723.25,"d":5.08},{"s":"ar","E":722.75,"d":5.00},{"s":"ar","E":722.25,"d":4.90},
{"s":"ar","E":721.75,"d":4.89},{"s":"ar","E":721.25,"d":4.81},{"s":"ar","E":720.75,"d":4.84},{"s":"ar","E":720.25,"d":4.77},
{"s":"ar","E":719.75,"d":4.80},{"s":"ar","E":719.25,"d":4.74},{"s":"ar","E":718.75,"d":4.76},{"s":"ar","E":718.25,"d":4.69},
{"s":"ar","E":717.75,"d":4.72},{"s":"ar","E":717.25,"d":4.66},{"s":"ar","E":716.75,"d":4.69},{"s":"ar","E":716.25,"d":4.68},
{"s":"ar","E":715.75,"d":4.77},{"s":"ar","E":715.25,"d":4.84},{"s":"ar","E":714.75,"d":4.96},{"s":"ar","E":714.25,"d":5.05},
{"s":"ar","E":713.75,"d":5.20},{"s":"ar","E":713.25,"d":5.31},{"s":"ar","E":712.75,"d":5.39},{"s":"ar","E":712.25,"d":5.38},
{"s":"ar","E":711.75,"d":5.31},{"s":"ar","E":711.25,"d":5.16},{"s":"ar","E":710.75,"d":5.00},{"s":"ar","E":710.25,"d":4.72},
{"s":"ar","E":709.75,"d":4.33},{"s":"ar","E":709.25,"d":3.80},{"s":"ar","E":708.75,"d":3.33},{"s":"ar","E":708.25,"d":3.05},
{"s":"ar","E":707.75,"d":2.99},{"s":"ar","E":707.25,"d":2.91},{"s":"ar","E":706.75,"d":2.95},{"s":"ar","E":706.25,"d":2.87},
{"s":"ar","E":705.75,"d":2.93},{"s":"ar","E":705.25,"d":2.86},{"s":"ar","E":704.75,"d":2.93},{"s":"ar","E":704.25,"d":2.86},
{"s":"ar","E":703.75,"d":2.90},{"s":"ar","E":703.25,"d":2.84},{"s":"ar","E":702.75,"d":2.91},{"s":"ar","E":702.25,"d":2.84},
{"s":"ar","E":701.75,"d":2.90},{"s":"ar","E":701.25,"d":2.84},{"s":"ar","E":700.75,"d":2.89},{"s":"ar","E":700.25,"d":2.83},

{"s":"ab","E":739.75,"d":1.97},{"s":"ab","E":739.25,"d":1.95},{"s":"ab","E":738.75,"d":2.01},{"s":"ab","E":738.25,"d":1.98},
{"s":"ab","E":737.75,"d":2.04},{"s":"ab","E":737.25,"d":2.01},{"s":"ab","E":736.75,"d":2.08},{"s":"ab","E":736.25,"d":2.05},
{"s":"ab","E":735.75,"d":2.12},{"s":"ab","E":735.25,"d":2.09},{"s":"ab","E":734.75,"d":2.16},{"s":"ab","E":734.25,"d":2.13},
{"s":"ab","E":733.75,"d":2.20},{"s":"ab","E":733.25,"d":2.16},{"s":"ab","E":732.75,"d":2.23},{"s":"ab","E":732.25,"d":2.19},
{"s":"ab","E":731.75,"d":2.25},{"s":"ab","E":731.25,"d":2.21},{"s":"ab","E":730.75,"d":2.27},{"s":"ab","E":730.25,"d":2.23},
{"s":"ab","E":729.75,"d":2.29},{"s":"ab","E":729.25,"d":2.26},{"s":"ab","E":728.75,"d":2.33},{"s":"ab","E":728.25,"d":2.30},
{"s":"ab","E":727.75,"d":2.37},{"s":"ab","E":727.25,"d":2.35},{"s":"ab","E":726.75,"d":2.43},{"s":"ab","E":726.25,"d":2.41},
{"s":"ab","E":725.75,"d":2.47},{"s":"ab","E":725.25,"d":2.42},{"s":"ab","E":724.75,"d":2.45},{"s":"ab","E":724.25,"d":2.36},
{"s":"ab","E":723.75,"d":2.37},{"s":"ab","E":723.25,"d":2.28},{"s":"ab","E":722.75,"d":2.32},{"s":"ab","E":722.25,"d":2.26},
{"s":"ab","E":721.75,"d":2.32},{"s":"ab","E":721.25,"d":2.27},{"s":"ab","E":720.75,"d":2.33},{"s":"ab","E":720.25,"d":2.28},
{"s":"ab","E":719.75,"d":2.32},{"s":"ab","E":719.25,"d":2.27},{"s":"ab","E":718.75,"d":2.32},{"s":"ab","E":718.25,"d":2.26},
{"s":"ab","E":717.75,"d":2.30},{"s":"ab","E":717.25,"d":2.25},{"s":"ab","E":716.75,"d":2.29},{"s":"ab","E":716.25,"d":2.28},
{"s":"ab","E":715.75,"d":2.34},{"s":"ab","E":715.25,"d":2.36},{"s":"ab","E":714.75,"d":2.45},{"s":"ab","E":714.25,"d":2.48},
{"s":"ab","E":713.75,"d":2.56},{"s":"ab","E":713.25,"d":2.52},{"s":"ab","E":712.75,"d":2.58},{"s":"ab","E":712.25,"d":2.52},
{"s":"ab","E":711.75,"d":2.47},{"s":"ab","E":711.25,"d":2.30},{"s":"ab","E":710.75,"d":2.07},{"s":"ab","E":710.25,"d":1.84},
{"s":"ab","E":709.75,"d":1.66},{"s":"ab","E":709.25,"d":1.46},{"s":"ab","E":708.75,"d":1.35},{"s":"ab","E":708.25,"d":1.24},
{"s":"ab","E":707.75,"d":1.21},{"s":"ab","E":707.25,"d":1.16},{"s":"ab","E":706.75,"d":1.16},{"s":"ab","E":706.25,"d":1.11},
{"s":"ab","E":705.75,"d":1.14},{"s":"ab","E":705.25,"d":1.10},{"s":"ab","E":704.75,"d":1.14},{"s":"ab","E":704.25,"d":1.09},
{"s":"ab","E":703.75,"d":1.13},{"s":"ab","E":703.25,"d":1.09},{"s":"ab","E":702.75,"d":1.14},{"s":"ab","E":702.25,"d":1.09},
{"s":"ab","E":701.75,"d":1.13},{"s":"ab","E":701.25,"d":1.09},{"s":"ab","E":700.75,"d":1.13},{"s":"ab","E":700.25,"d":1.09},

{"s":"bk","E":739.75,"d":11.10},{"s":"bk","E":739.25,"d":11.19},{"s":"bk","E":738.75,"d":11.13},{"s":"bk","E":738.25,"d":11.19},
{"s":"bk","E":737.75,"d":11.12},{"s":"bk","E":737.25,"d":11.21},{"s":"bk","E":736.75,"d":11.15},{"s":"bk","E":736.25,"d":11.23},
{"s":"bk","E":735.75,"d":11.18},{"s":"bk","E":735.25,"d":11.27},{"s":"bk","E":734.75,"d":11.22},{"s":"bk","E":734.25,"d":11.31},
{"s":"bk","E":733.75,"d":11.26},{"s":"bk","E":733.25,"d":11.36},{"s":"bk","E":732.75,"d":11.31},{"s":"bk","E":732.25,"d":11.42},
{"s":"bk","E":731.75,"d":11.37},{"s":"bk","E":731.25,"d":11.48},{"s":"bk","E":730.75,"d":11.43},{"s":"bk","E":730.25,"d":11.54},
{"s":"bk","E":729.75,"d":11.50},{"s":"bk","E":729.25,"d":11.62},{"s":"bk","E":728.75,"d":11.58},{"s":"bk","E":728.25,"d":11.72},
{"s":"bk","E":727.75,"d":11.80},{"s":"bk","E":727.25,"d":11.90},{"s":"bk","E":726.75,"d":11.98},{"s":"bk","E":726.25,"d":12.18},
{"s":"bk","E":725.75,"d":12.28},{"s":"bk","E":725.25,"d":12.50},{"s":"bk","E":724.75,"d":12.52},{"s":"bk","E":724.25,"d":12.30},
{"s":"bk","E":723.75,"d":12.16},{"s":"bk","E":723.25,"d":11.82},{"s":"bk","E":722.75,"d":11.62},{"s":"bk","E":722.25,"d":11.33},
{"s":"bk","E":721.75,"d":11.20},{"s":"bk","E":721.25,"d":11.00},{"s":"bk","E":720.75,"d":10.97},{"s":"bk","E":720.25,"d":10.86},
{"s":"bk","E":719.75,"d":10.86},{"s":"bk","E":719.25,"d":10.77},{"s":"bk","E":718.75,"d":10.84},{"s":"bk","E":718.25,"d":10.82},
{"s":"bk","E":717.75,"d":10.94},{"s":"bk","E":717.25,"d":10.98},{"s":"bk","E":716.75,"d":11.14},{"s":"bk","E":716.25,"d":11.24},
{"s":"bk","E":715.75,"d":11.40},{"s":"bk","E":715.25,"d":11.50},{"s":"bk","E":714.75,"d":11.72},{"s":"bk","E":714.25,"d":11.84},
{"s":"bk","E":713.75,"d":12.10},{"s":"bk","E":713.25,"d":12.30},{"s":"bk","E":712.75,"d":12.64},{"s":"bk","E":712.25,"d":12.86},
{"s":"bk","E":711.75,"d":13.00},{"s":"bk","E":711.25,"d":12.80},{"s":"bk","E":710.75,"d":12.46},{"s":"bk","E":710.25,"d":11.90},
{"s":"bk","E":709.75,"d":11.30},{"s":"bk","E":709.25,"d":10.68},{"s":"bk","E":708.75,"d":10.12},{"s":"bk","E":708.25,"d":9.58},
{"s":"bk","E":707.75,"d":9.26},{"s":"bk","E":707.25,"d":8.98},{"s":"bk","E":706.75,"d":8.86},{"s":"bk","E":706.25,"d":8.72},
{"s":"bk","E":705.75,"d":8.70},{"s":"bk","E":705.25,"d":8.60},{"s":"bk","E":704.75,"d":8.64},{"s":"bk","E":704.25,"d":8.55},
{"s":"bk","E":703.75,"d":8.62},{"s":"bk","E":703.25,"d":8.56},{"s":"bk","E":702.75,"d":8.65},{"s":"bk","E":702.25,"d":8.55},
{"s":"bk","E":701.75,"d":8.63},{"s":"bk","E":701.25,"d":8.55},{"s":"bk","E":700.75,"d":8.64},{"s":"bk","E":700.25,"d":8.56},

{"s":"br","E":739.75,"d":6.50},{"s":"br","E":739.25,"d":6.60},{"s":"br","E":738.75,"d":6.54},{"s":"br","E":738.25,"d":6.63},
{"s":"br","E":737.75,"d":6.57},{"s":"br","E":737.25,"d":6.66},{"s":"br","E":736.75,"d":6.60},{"s":"br","E":736.25,"d":6.70},
{"s":"br","E":735.75,"d":6.64},{"s":"br","E":735.25,"d":6.75},{"s":"br","E":734.75,"d":6.70},{"s":"br","E":734.25,"d":6.80},
{"s":"br","E":733.75,"d":6.76},{"s":"br","E":733.25,"d":6.86},{"s":"br","E":732.75,"d":6.82},{"s":"br","E":732.25,"d":6.92},
{"s":"br","E":731.75,"d":6.88},{"s":"br","E":731.25,"d":6.99},{"s":"br","E":730.75,"d":6.95},{"s":"br","E":730.25,"d":7.06},
{"s":"br","E":729.75,"d":7.02},{"s":"br","E":729.25,"d":7.16},{"s":"br","E":728.75,"d":7.12},{"s":"br","E":728.25,"d":7.26},
{"s":"br","E":727.75,"d":7.28},{"s":"br","E":727.25,"d":7.42},{"s":"br","E":726.75,"d":7.46},{"s":"br","E":726.25,"d":7.62},
{"s":"br","E":725.75,"d":7.66},{"s":"br","E":725.25,"d":7.78},{"s":"br","E":724.75,"d":7.70},{"s":"br","E":724.25,"d":7.60},
{"s":"br","E":723.75,"d":7.42},{"s":"br","E":723.25,"d":7.22},{"s":"br","E":722.75,"d":7.00},{"s":"br","E":722.25,"d":6.84},
{"s":"br","E":721.75,"d":6.70},{"s":"br","E":721.25,"d":6.64},{"s":"br","E":720.75,"d":6.56},{"s":"br","E":720.25,"d":6.60},
{"s":"br","E":719.75,"d":6.54},{"s":"br","E":719.25,"d":6.62},{"s":"br","E":718.75,"d":6.58},{"s":"br","E":718.25,"d":6.70},
{"s":"br","E":717.75,"d":6.70},{"s":"br","E":717.25,"d":6.84},{"s":"br","E":716.75,"d":6.88},{"s":"br","E":716.25,"d":7.04},
{"s":"br","E":715.75,"d":7.08},{"s":"br","E":715.25,"d":7.26},{"s":"br","E":714.75,"d":7.32},{"s":"br","E":714.25,"d":7.52},
{"s":"br","E":713.75,"d":7.60},{"s":"br","E":713.25,"d":7.94},{"s":"br","E":712.75,"d":8.02},{"s":"br","E":712.25,"d":8.18},
{"s":"br","E":711.75,"d":8.06},{"s":"br","E":711.25,"d":7.84},{"s":"br","E":710.75,"d":7.44},{"s":"br","E":710.25,"d":6.90},
{"s":"br","E":709.75,"d":6.32},{"s":"br","E":709.25,"d":5.80},{"s":"br","E":708.75,"d":5.42},{"s":"br","E":708.25,"d":5.18},
{"s":"br","E":707.75,"d":5.00},{"s":"br","E":707.25,"d":4.92},{"s":"br","E":706.75,"d":4.80},{"s":"br","E":706.25,"d":4.84},
{"s":"br","E":705.75,"d":4.76},{"s":"br","E":705.25,"d":4.80},{"s":"br","E":704.75,"d":4.72},{"s":"br","E":704.25,"d":4.78},
{"s":"br","E":703.75,"d":4.68},{"s":"br","E":703.25,"d":4.76},{"s":"br","E":702.75,"d":4.68},{"s":"br","E":702.25,"d":4.75},
{"s":"br","E":701.75,"d":4.67},{"s":"br","E":701.25,"d":4.74},{"s":"br","E":700.75,"d":4.66},{"s":"br","E":700.25,"d":4.72},

{"s":"bb","E":739.75,"d":2.92},{"s":"bb","E":739.25,"d":2.88},{"s":"bb","E":738.75,"d":2.95},{"s":"bb","E":738.25,"d":2.90},
{"s":"bb","E":737.75,"d":3.00},{"s":"bb","E":737.25,"d":2.94},{"s":"bb","E":736.75,"d":3.05},{"s":"bb","E":736.25,"d":2.99},
{"s":"bb","E":735.75,"d":3.10},{"s":"bb","E":735.25,"d":3.05},{"s":"bb","E":734.75,"d":3.16},{"s":"bb","E":734.25,"d":3.10},
{"s":"bb","E":733.75,"d":3.20},{"s":"bb","E":733.25,"d":3.14},{"s":"bb","E":732.75,"d":3.25},{"s":"bb","E":732.25,"d":3.19},
{"s":"bb","E":731.75,"d":3.30},{"s":"bb","E":731.25,"d":3.24},{"s":"bb","E":730.75,"d":3.36},{"s":"bb","E":730.25,"d":3.30},
{"s":"bb","E":729.75,"d":3.42},{"s":"bb","E":729.25,"d":3.37},{"s":"bb","E":728.75,"d":3.50},{"s":"bb","E":728.25,"d":3.46},
{"s":"bb","E":727.75,"d":3.56},{"s":"bb","E":727.25,"d":3.62},{"s":"bb","E":726.75,"d":3.70},{"s":"bb","E":726.25,"d":3.80},
{"s":"bb","E":725.75,"d":3.86},{"s":"bb","E":725.25,"d":3.96},{"s":"bb","E":724.75,"d":3.88},{"s":"bb","E":724.25,"d":3.70},
{"s":"bb","E":723.75,"d":3.62},{"s":"bb","E":723.25,"d":3.42},{"s":"bb","E":722.75,"d":3.36},{"s":"bb","E":722.25,"d":3.22},
{"s":"bb","E":721.75,"d":3.24},{"s":"bb","E":721.25,"d":3.14},{"s":"bb","E":720.75,"d":3.20},{"s":"bb","E":720.25,"d":3.12},
{"s":"bb","E":719.75,"d":3.20},{"s":"bb","E":719.25,"d":3.12},{"s":"bb","E":718.75,"d":3.22},{"s":"bb","E":718.25,"d":3.16},
{"s":"bb","E":717.75,"d":3.27},{"s":"bb","E":717.25,"d":3.22},{"s":"bb","E":716.75,"d":3.34},{"s":"bb","E":716.25,"d":3.42},
{"s":"bb","E":715.75,"d":3.46},{"s":"bb","E":715.25,"d":3.60},{"s":"bb","E":714.75,"d":3.68},{"s":"bb","E":714.25,"d":3.86},
{"s":"bb","E":713.75,"d":3.92},{"s":"bb","E":713.25,"d":4.10},{"s":"bb","E":712.75,"d":4.12},{"s":"bb","E":712.25,"d":4.14},
{"s":"bb","E":711.75,"d":4.04},{"s":"bb","E":711.25,"d":3.86},{"s":"bb","E":710.75,"d":3.54},{"s":"bb","E":710.25,"d":3.08},
{"s":"bb","E":709.75,"d":2.66},{"s":"bb","E":709.25,"d":2.28},{"s":"bb","E":708.75,"d":2.04},{"s":"bb","E":708.25,"d":1.86},
{"s":"bb","E":707.75,"d":1.74},{"s":"bb","E":707.25,"d":1.64},{"s":"bb","E":706.75,"d":1.62},{"s":"bb","E":706.25,"d":1.55},
{"s":"bb","E":705.75,"d":1.58},{"s":"bb","E":705.25,"d":1.52},{"s":"bb","E":704.75,"d":1.60},{"s":"bb","E":704.25,"d":1.50},
{"s":"bb","E":703.75,"d":1.60},{"s":"bb","E":703.25,"d":1.52},{"s":"bb","E":702.75,"d":1.58},{"s":"bb","E":702.25,"d":1.50},
{"s":"bb","E":701.75,"d":1.62},{"s":"bb","E":701.25,"d":1.52},{"s":"bb","E":700.75,"d":1.56},{"s":"bb","E":700.25,"d":1.48}
],
"txt": [
{"s":"ak","E":737.3,"v":10.22,"t":"3Cu17FeCoK"},
{"s":"ar","E":737.3,"v":5.82,"t":"12Cu8FeCoK"},
{"s":"ab","E":737.3,"v":3.06,"t":"17Cu3FeCoK"},
{"s":"ak","E":735.0,"v":0.62,"t":"As prepared catalysts"},
{"s":"bk","E":737.45,"v":12.97,"t":"3Cu17FeCoK"},
{"s":"br","E":737.45,"v":8.09,"t":"12Cu8FeCoK"},
{"s":"bb","E":737.45,"v":4.59,"t":"17Cu3FeCoK"},
{"s":"bk","E":735.0,"v":0.81,"t":"Spent catalysts"}
],
"tag": [
{"s":"ak","E":751.3,"v":-1.24,"t":"a)"},
{"s":"bk","E":751.4,"v":-1.51,"t":"b)"}
]
},
"hconcat": [
{
  "width": 339, "height": 524,
  "encoding": {
    "x": {"field": "E", "type": "quantitative", "scale": {"domain": [695, 745], "reverse": true, "nice": false, "zero": false},
          "axis": {"title": "B.E. (eV)", "values": [695,700,705,710,715,720,725,730,735,740,745], "labelExpr": "datum.value % 10 === 0 ? datum.label : ''", "labelFlush": false, "labelOverlap": false, "tickSize": {"condition": {"test": "datum.value % 10 === 0", "value": 7}, "value": 4}, "labelPadding": 5, "titlePadding": 12}},
    "y": {"field": "v", "type": "quantitative", "scale": {"domain": [0, 11], "nice": false, "zero": false},
          "axis": {"title": "XPS signal (a.u.)", "values": [0,1,2,3,4,5,6,7,8,9,10,11], "labels": false, "tickSize": {"condition": {"test": "datum.value % 2 === 0", "value": 7}, "value": 4}, "titlePadding": 10}},
    "color": {"field": "s", "type": "nominal", "scale": {"domain": ["ak","ar","ab","bk","br","bb"], "range": ["#000000","#ff0000","#0000ff","#000000","#ff0000","#0000ff"]}, "legend": null}
  },
  "layer": [
    {"data": {"name": "rows"}, "transform": [{"filter": "substring(datum.s,0,1) === 'a'"}, {"fold": ["g","e"], "as": ["k","v"]}, {"filter": "isValid(datum.v)"}],
     "mark": {"type": "line", "strokeWidth": 1.4, "interpolate": "monotone"},
     "encoding": {"detail": {"field": "k"}}},
    {"data": {"name": "rows"}, "transform": [{"filter": "substring(datum.s,0,1) === 'a'"}, {"fold": ["c1","c2","c3","c4"], "as": ["k","v"]}, {"filter": "isValid(datum.v)"}],
     "mark": {"type": "line", "strokeWidth": 1.2, "strokeDash": [3,2], "interpolate": "monotone"},
     "encoding": {"detail": {"field": "k"}}},
    {"data": {"name": "rows"}, "transform": [{"filter": "substring(datum.s,0,1) === 'a'"}, {"fold": ["d"], "as": ["k","v"]}, {"filter": "isValid(datum.v)"}],
     "mark": {"type": "point", "filled": false, "size": 45, "strokeWidth": 1, "opacity": 0.75},
     "encoding": {"shape": {"field": "s", "type": "nominal", "scale": {"domain": ["ak","ar","ab","bk","br","bb"], "range": ["square","circle","triangle-up","square","circle","triangle-up"]}, "legend": null}}},
    {"data": {"name": "txt"}, "transform": [{"filter": "substring(datum.s,0,1) === 'a'"}],
     "mark": {"type": "text", "align": "left", "baseline": "middle", "fontSize": 19.5, "font": "Liberation Sans"},
     "encoding": {"text": {"field": "t"}}},
    {"data": {"name": "tag"}, "transform": [{"filter": "substring(datum.s,0,1) === 'a'"}],
     "mark": {"type": "text", "align": "left", "baseline": "alphabetic", "fontSize": 28, "font": "Liberation Serif"},
     "encoding": {"text": {"field": "t"}}}
  ]
},
{
  "width": 325, "height": 527,
  "encoding": {
    "x": {"field": "E", "type": "quantitative", "scale": {"domain": [696.7, 745], "reverse": true, "nice": false, "zero": false},
          "axis": {"title": "B.E. (eV)", "values": [700,705,710,715,720,725,730,735,740,745], "labelExpr": "datum.value % 10 === 0 ? datum.label : ''", "labelFlush": false, "labelOverlap": false, "tickSize": {"condition": {"test": "datum.value % 10 === 0", "value": 7}, "value": 4}, "labelPadding": 5, "titlePadding": 12}},
    "y": {"field": "v", "type": "quantitative", "scale": {"domain": [0, 14.243], "nice": false, "zero": false},
          "axis": {"title": "XPS signal (a.u.)", "domain": false, "values": [0,1,2,3,4,5,6,7,8,9,10,11,12,13,14], "labels": false, "tickSize": {"condition": {"test": "datum.value % 2 === 1", "value": 7}, "value": 4}, "titlePadding": 7}},
    "color": {"field": "s", "type": "nominal", "scale": {"domain": ["ak","ar","ab","bk","br","bb"], "range": ["#000000","#ff0000","#0000ff","#000000","#ff0000","#0000ff"]}, "legend": null}
  },
  "layer": [
    {"data": {"values": [{}]}, "mark": {"type": "rule", "strokeWidth": 1.2},
     "encoding": {"x": {"datum": 745}, "y": {"datum": 0}, "y2": {"datum": 14}, "color": {"value": "#000000"}}},
    {"data": {"name": "rows"}, "transform": [{"filter": "substring(datum.s,0,1) === 'b'"}, {"fold": ["g","e"], "as": ["k","v"]}, {"filter": "isValid(datum.v)"}],
     "mark": {"type": "line", "strokeWidth": 1.4, "interpolate": "monotone"},
     "encoding": {"detail": {"field": "k"}}},
    {"data": {"name": "rows"}, "transform": [{"filter": "substring(datum.s,0,1) === 'b'"}, {"fold": ["c1","c2","c3","c4"], "as": ["k","v"]}, {"filter": "isValid(datum.v)"}],
     "mark": {"type": "line", "strokeWidth": 1.2, "strokeDash": [3,2], "interpolate": "monotone"},
     "encoding": {"detail": {"field": "k"}}},
    {"data": {"name": "rows"}, "transform": [{"filter": "substring(datum.s,0,1) === 'b'"}, {"fold": ["d"], "as": ["k","v"]}, {"filter": "isValid(datum.v)"}],
     "mark": {"type": "point", "filled": false, "size": 45, "strokeWidth": 1, "opacity": 0.75},
     "encoding": {"shape": {"field": "s", "type": "nominal", "scale": {"domain": ["ak","ar","ab","bk","br","bb"], "range": ["square","circle","triangle-up","square","circle","triangle-up"]}, "legend": null}}},
    {"data": {"name": "txt"}, "transform": [{"filter": "substring(datum.s,0,1) === 'b'"}],
     "mark": {"type": "text", "align": "left", "baseline": "middle", "fontSize": 19.5, "font": "Liberation Sans"},
     "encoding": {"text": {"field": "t"}}},
    {"data": {"name": "tag"}, "transform": [{"filter": "substring(datum.s,0,1) === 'b'"}],
     "mark": {"type": "text", "align": "left", "baseline": "alphabetic", "fontSize": 28, "font": "Liberation Serif"},
     "encoding": {"text": {"field": "t"}}}
  ]
}
]
}
